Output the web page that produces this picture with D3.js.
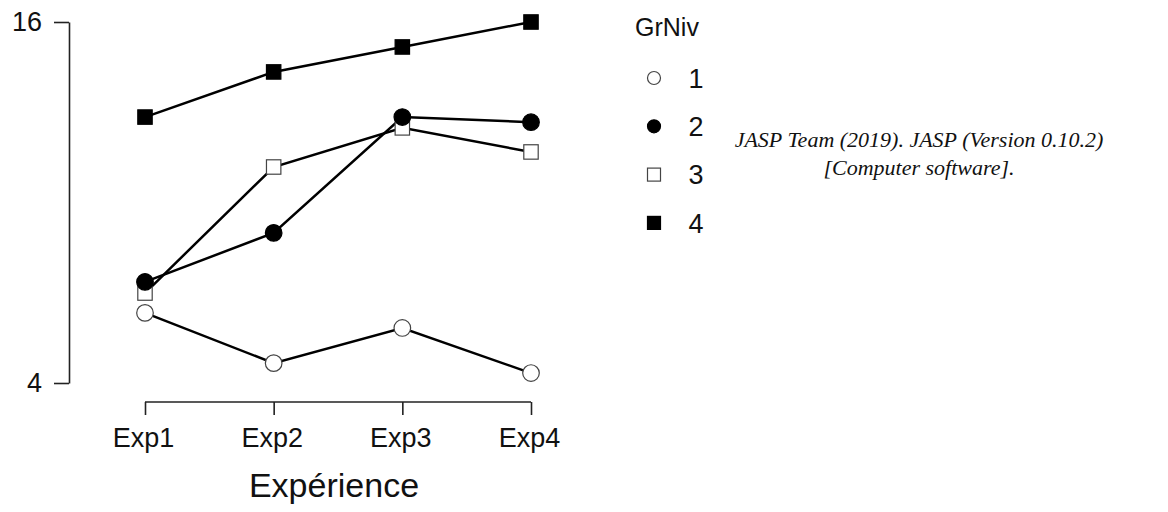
<!DOCTYPE html>
<html lang="fr">
  <head>
    <meta charset="utf-8">
    <title>GrNiv par Expérience</title>
    <style type="text/css">
      body { margin: 0; background: #fff; }
      svg { display: block; }
    </style>
  </head>
  <body>
    <script type="text/javascript" src="https://d3js.org/d3.v7.min.js"></script>
    <script type="text/javascript">
    // ===================================
    // DATA
    // ===================================
      var categories = ["Exp1", "Exp2", "Exp3", "Exp4"];
      var groups = ["1", "2", "3", "4"];
      var grniv1 = [6.33, 4.66, 5.83, 4.33];
      var grniv2 = [7.36, 8.99, 12.84, 12.67];
      var grniv3 = [6.99, 11.18, 12.48, 11.68];
      var grniv4 = [12.84, 14.34, 15.17, 16.0];
      var yTicks = [4, 16];

      var w = 1168, h = 512;
      var font = "Arial, 'Liberation Sans', sans-serif";

      var series = [
        { name: groups[0], values: grniv1, shape: "circle", fill: "#fff" },
        { name: groups[1], values: grniv2, shape: "circle", fill: "#000" },
        { name: groups[2], values: grniv3, shape: "square", fill: "#fff" },
        { name: groups[3], values: grniv4, shape: "square", fill: "#000" }
      ];

      var svg = d3.select("body").append("svg")
        .attr("width", w)
        .attr("height", h);

      var x = d3.scalePoint().domain(categories).range([145, 531]);
      var y = d3.scaleLinear().domain([4, 16]).range([383, 22]);

    // ===================================
    // AXES
    // ===================================
      var yAxis = svg.append("g")
        .attr("transform", "translate(69,0)")
        .call(d3.axisLeft(y).tickValues(yTicks).tickSize(15).tickPadding(12).tickSizeOuter(0));
      yAxis.select(".domain").attr("stroke", "#222").attr("stroke-width", 1.6);
      yAxis.selectAll(".tick line").attr("stroke", "#222").attr("stroke-width", 1.6);
      yAxis.selectAll("text").attr("font-family", font).attr("font-size", 27).attr("fill", "#111");

      var xAxis = svg.append("g")
        .attr("transform", "translate(0,402)")
        .call(d3.axisBottom(x).tickSize(13).tickPadding(13).tickSizeOuter(0));
      xAxis.select(".domain").attr("stroke", "#222").attr("stroke-width", 1.6)
        .attr("d", "M" + x(categories[0]) + ",0H" + x(categories[3]));
      xAxis.selectAll(".tick line").attr("stroke", "#222").attr("stroke-width", 1.6);
      xAxis.selectAll("text").attr("font-family", font).attr("font-size", 27).attr("fill", "#111")
        .attr("dx", -2);

      svg.append("text")
        .attr("x", 334)
        .attr("y", 497)
        .attr("text-anchor", "middle")
        .attr("font-family", font)
        .attr("font-size", 34)
        .attr("fill", "#111")
        .text("Expérience");

    // ===================================
    // LINES + POINTS
    // ===================================
      var line = d3.line()
        .x(function(d, i) { return x(categories[i]); })
        .y(function(d) { return y(d); });

      svg.selectAll(".series-line")
        .data(series)
        .enter()
        .append("path")
        .attr("class", "series-line")
        .attr("d", function(d) { return line(d.values); })
        .attr("fill", "none")
        .attr("stroke", "#000")
        .attr("stroke-width", 2.5);

      // squares first so circles sit on top (as in the original)
      var drawOrder = [series[0], series[2], series[3], series[1]];

      drawOrder.forEach(function(s) {
        var g = svg.append("g");
        if (s.shape === "circle") {
          g.selectAll("circle")
            .data(s.values)
            .enter()
            .append("circle")
            .attr("cx", function(d, i) { return x(categories[i]); })
            .attr("cy", function(d) { return y(d); })
            .attr("r", 8.3)
            .attr("fill", s.fill)
            .attr("stroke", s.fill === "#fff" ? "#444" : "#000")
            .attr("stroke-width", 1.2);
        } else {
          g.selectAll("rect")
            .data(s.values)
            .enter()
            .append("rect")
            .attr("x", function(d, i) { return x(categories[i]) - 7.2; })
            .attr("y", function(d) { return y(d) - 7.2; })
            .attr("width", 14.4)
            .attr("height", 14.4)
            .attr("fill", s.fill)
            .attr("stroke", s.fill === "#fff" ? "#444" : "#000")
            .attr("stroke-width", 1.2);
        }
      });

    // ===================================
    // LEGEND
    // ===================================
      var legend = svg.append("g");
      legend.append("text")
        .attr("x", 635)
        .attr("y", 36)
        .attr("font-family", font)
        .attr("font-size", 25)
        .attr("fill", "#111")
        .text("GrNiv");

      var items = legend.selectAll(".item")
        .data(series)
        .enter()
        .append("g")
        .attr("class", "item")
        .attr("transform", function(d, i) { return "translate(654," + (78 + i * 48.3) + ")"; });

      items.each(function(d) {
        var g = d3.select(this);
        if (d.shape === "circle") {
          g.append("circle").attr("r", 6.5)
            .attr("fill", d.fill)
            .attr("stroke", d.fill === "#fff" ? "#444" : "#000")
            .attr("stroke-width", 1.2);
        } else {
          g.append("rect").attr("x", -6.5).attr("y", -6.5)
            .attr("width", 13).attr("height", 13)
            .attr("fill", d.fill)
            .attr("stroke", d.fill === "#fff" ? "#444" : "#000")
            .attr("stroke-width", 1.2);
        }
      });

      items.append("text")
        .attr("x", 42)
        .attr("y", 0)
        .attr("dy", "0.36em")
        .attr("text-anchor", "middle")
        .attr("font-family", font)
        .attr("font-size", 27)
        .attr("fill", "#111")
        .text(function(d) { return d.name; });

    // ===================================
    // CITATION
    // ===================================
      var cite = svg.append("text")
        .attr("x", 919)
        .attr("text-anchor", "middle")
        .attr("font-family", "'Liberation Serif', 'Times New Roman', serif")
        .attr("font-style", "italic")
        .attr("font-size", 22)
        .attr("fill", "#111");
      cite.append("tspan").attr("x", 919).attr("y", 147).text("JASP Team (2019). JASP (Version 0.10.2)");
      cite.append("tspan").attr("x", 919).attr("y", 175).text("[Computer software].");
    </script>
  </body>
</html>
